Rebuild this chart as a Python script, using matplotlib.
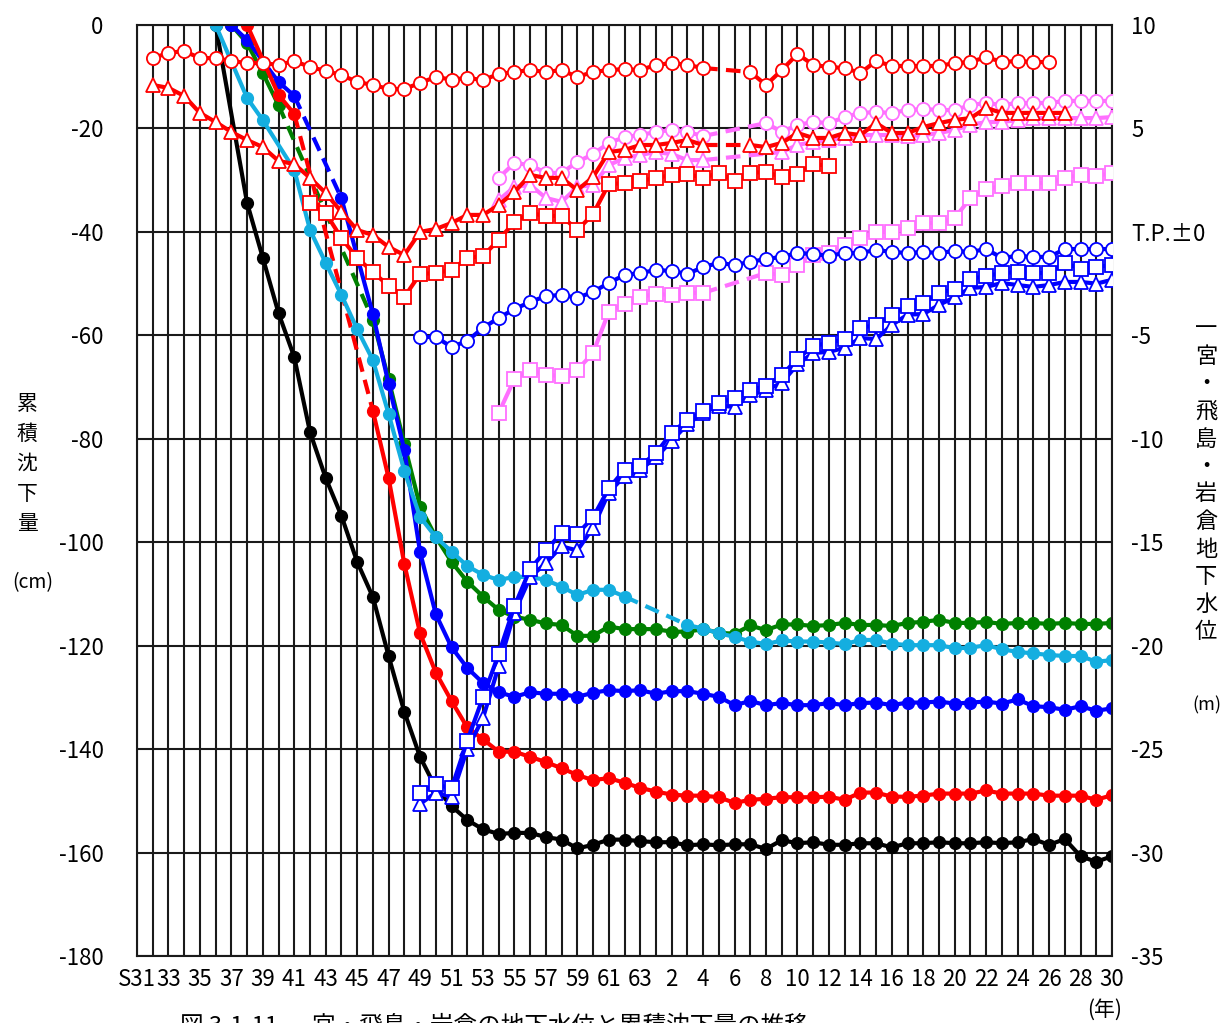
import numpy as np
import matplotlib
matplotlib.use("Agg")
import matplotlib.pyplot as plt

plt.rcParams['font.family'] = ['Noto Sans CJK JP', 'DejaVu Sans']

# ---- cumulative subsidence (cm), left axis, filled circles ----
black_years = [1961] + list(range(1963, 2019))
black_vals = [0, -34.4, -45.0, -55.7, -64.2, -78.7, -87.6, -94.9, -103.8, -110.6,
              -122.0, -132.8, -141.5, -147.5, -151.0, -153.7, -155.5, -156.4, -156.2,
              -156.2, -157.0, -157.5, -159.2, -158.5, -157.5, -157.5, -157.8, -158.0,
              -158.0, -158.6, -158.4, -158.6, -158.4, -158.4, -159.3, -157.6, -158.2,
              -158.0, -158.5, -158.5, -158.2, -158.2, -159.0, -158.2, -158.2, -158.0,
              -158.2, -158.2, -158.0, -158.2, -158.0, -157.4, -158.5, -157.4, -160.7,
              -161.8, -160.7]
black_dash = []

red_years = [1963, 1965, 1966] + list(range(1971, 2019))
red_vals = [0, -13.5, -17.2, -74.6, -87.6, -104.2, -117.6, -125.2, -130.7, -135.8,
            -138.1, -140.5, -140.5, -141.5, -142.5, -143.7, -145.0, -146.0, -145.6,
            -146.5, -147.5, -148.2, -148.8, -149.0, -149.0, -149.3, -150.4, -149.8,
            -149.6, -149.3, -149.3, -149.3, -149.2, -149.8, -148.4, -148.4, -149.2,
            -149.2, -149.0, -148.6, -148.6, -148.6, -148.0, -148.6, -148.6, -148.6,
            -149.0, -149.0, -149.0, -149.8, -148.9]
red_dash = [1966]

blue_years = [1962, 1963, 1965, 1966, 1969] + list(range(1971, 2019))
blue_vals = [0, -2.9, -11.0, -13.7, -33.5, -55.9, -69.4, -82.2, -101.9, -113.9,
             -120.3, -124.3, -127.2, -129.0, -129.9, -129.0, -129.3, -129.3, -129.9,
             -129.1, -128.6, -128.8, -128.6, -129.3, -128.8, -128.8, -129.3, -129.9,
             -131.5, -130.7, -131.5, -131.1, -131.5, -131.5, -131.1, -131.5, -131.1,
             -131.0, -131.5, -131.0, -131.0, -130.8, -131.2, -131.0, -130.8, -131.2,
             -130.4, -131.7, -131.9, -132.4, -131.7, -132.6, -132.1]
blue_dash = [1966]

green_years = [1962, 1963, 1964, 1965] + list(range(1971, 2019))
green_vals = [0, -3.5, -9.3, -15.5, -57.0, -68.5, -81.0, -93.1, -99.0, -103.8,
              -107.6, -110.5, -113.1, -114.4, -115.0, -115.7, -116.0, -118.1, -118.1,
              -116.3, -116.8, -116.8, -116.8, -117.3, -117.3, -116.8, -117.5, -117.7,
              -116.1, -117.0, -115.9, -115.9, -116.2, -116.0, -115.6, -116.0, -116.0,
              -116.2, -115.6, -115.4, -115.0, -115.6, -115.6, -115.4, -115.8, -115.6,
              -115.6, -115.8, -115.6, -115.8, -115.8, -115.6]
green_dash = [1965]

cyan_years = [1961, 1963, 1964] + list(range(1966, 1988)) + list(range(1991, 2019))
cyan_vals = [0, -14.1, -18.4, -28.0, -39.6, -46.0, -52.2, -58.8, -64.8, -75.2, -86.2,
             -95.1, -99.0, -101.8, -104.6, -106.3, -107.3, -106.7, -106.7, -107.3,
             -108.6, -110.2, -109.2, -109.2, -110.5, -116.0, -116.7, -117.6, -118.3,
             -119.2, -119.7, -119.0, -119.2, -119.2, -119.4, -119.7, -118.9, -118.9,
             -119.6, -119.9, -119.9, -119.9, -120.5, -120.4, -119.9, -120.7, -121.2,
             -121.5, -121.8, -122.0, -122.0, -123.1, -122.8]
cyan_dash = [1987]

# ---- groundwater level (m), right axis, hollow markers ----
rc_years = list(range(1957, 1993)) + list(range(1995, 2015))
rc_vals = [8.40, 8.65, 8.74, 8.40, 8.40, 8.26, 8.16, 8.16, 8.07, 8.26, 7.97, 7.78,
           7.58, 7.25, 7.10, 6.91, 6.91, 7.20, 7.49, 7.36, 7.44, 7.34, 7.63, 7.73,
           7.82, 7.73, 7.82, 7.49, 7.73, 7.82, 7.87, 7.82, 8.07, 8.16, 8.07, 7.92,
           7.73, 7.10, 7.82, 8.60, 8.07, 7.97, 7.92, 7.68, 8.26, 8.02, 8.02, 8.02,
           8.02, 8.16, 8.21, 8.45, 8.21, 8.26, 8.21, 8.21]
rc_dash = [1992]

rt_years = list(range(1957, 1993)) + list(range(1995, 2016))
rt_vals = [7.10, 6.96, 6.57, 5.75, 5.31, 4.83, 4.44, 4.10, 3.43, 3.28, 2.61, 1.88,
           0.96, 0.09, -0.15, -0.73, -1.12, 0.0, 0.14, 0.43, 0.82, 0.82, 1.30, 1.93,
           2.75, 2.61, 2.61, 2.02, 2.65, 3.86, 3.96, 4.20, 4.20, 4.30, 4.44, 4.20,
           4.20, 4.10, 4.30, 4.78, 4.54, 4.54, 4.78, 4.68, 5.26, 4.78, 4.78, 5.07,
           5.26, 5.41, 5.50, 5.99, 5.75, 5.75, 5.75, 5.75, 5.75]
rt_dash = [1992]

rs_years = list(range(1967, 2001))
rs_vals = [1.40, 0.91, -0.30, -1.26, -1.94, -2.61, -3.15, -2.03, -1.99, -1.84, -1.26,
           -1.16, -0.39, 0.48, 0.91, 0.77, 0.77, 0.09, 0.86, 2.31, 2.36, 2.46, 2.61,
           2.75, 2.80, 2.61, 2.85, 2.46, 2.85, 2.90, 2.65, 2.80, 3.28, 3.19]
rs_dash = []

pc_years = list(range(1979, 1993)) + list(range(1996, 2019))
pc_vals = [2.61, 3.33, 3.23, 2.85, 2.85, 3.38, 3.76, 4.30, 4.58, 4.68, 4.83, 4.93,
           4.83, 4.63, 5.26, 4.83, 5.17, 5.31, 5.26, 5.55, 5.75, 5.79, 5.75, 5.89,
           5.94, 5.89, 5.89, 6.13, 6.23, 6.13, 6.23, 6.23, 6.23, 6.33, 6.33, 6.33,
           6.33]
pc_dash = [1992]

pt_years = list(range(1979, 1993)) + list(range(1997, 2019))
pt_vals = [1.54, 2.17, 2.27, 1.64, 1.45, 2.17, 2.27, 3.23, 3.57, 3.72, 3.86, 3.76,
           3.47, 3.47, 3.86, 4.20, 4.35, 4.44, 4.54, 4.68, 4.68, 4.68, 4.63, 4.68,
           4.78, 4.93, 5.17, 5.31, 5.31, 5.41, 5.50, 5.50, 5.50, 5.50, 5.50, 5.55]
pt_dash = [1992]

ps_years = list(range(1979, 1993)) + list(range(1996, 2019))
ps_vals = [-8.75, -7.11, -6.67, -6.92, -6.96, -6.67, -5.85, -3.87, -3.48, -3.15,
           -3.00, -3.05, -2.95, -2.95, -1.99, -2.08, -1.60, -1.12, -1.02, -0.63,
           -0.30, 0.0, 0.0, 0.19, 0.43, 0.43, 0.67, 1.64, 2.07, 2.22, 2.36, 2.36,
           2.36, 2.61, 2.75, 2.70, 2.85]
ps_dash = [1992]

bc_years = list(range(1974, 2019))
bc_vals = [-5.08, -5.08, -5.56, -5.27, -4.64, -4.16, -3.73, -3.39, -3.10, -3.05,
           -3.19, -2.90, -2.47, -2.08, -1.99, -1.84, -1.89, -2.03, -1.70, -1.50,
           -1.60, -1.45, -1.31, -1.21, -1.02, -1.07, -1.16, -1.02, -1.02, -0.87,
           -0.97, -1.02, -0.97, -1.02, -0.92, -0.97, -0.83, -1.26, -1.16, -1.21,
           -1.21, -0.83, -0.83, -0.83, -0.83]
bc_dash = []

bs_years = list(range(1974, 2019))
bs_vals = [-27.1, -26.7, -26.9, -24.6, -22.5, -20.4, -18.1, -16.3, -15.4, -14.55,
           -14.6, -13.8, -12.4, -11.5, -11.3, -10.7, -9.7, -9.1, -8.66, -8.27,
           -8.03, -7.64, -7.45, -6.92, -6.14, -5.51, -5.37, -5.18, -4.64, -4.50,
           -4.00, -3.58, -3.44, -2.95, -2.76, -2.28, -2.13, -1.99, -1.94, -1.99,
           -1.99, -1.50, -1.79, -1.70, -1.60]
bs_dash = []

bt_years = list(range(1974, 2019))
bt_vals = [-27.65, -27.1, -27.3, -25.0, -23.5, -21.0, -18.4, -16.7, -16.0, -15.2,
           -15.4, -14.3, -12.6, -11.8, -11.5, -10.9, -10.1, -9.3, -8.75, -8.40,
           -8.46, -7.90, -7.64, -7.30, -6.40, -5.85, -5.80, -5.60, -5.13, -5.18,
           -4.50, -4.00, -3.97, -3.53, -3.15, -2.71, -2.66, -2.47, -2.57, -2.66,
           -2.57, -2.42, -2.42, -2.50, -2.32]
bt_dash = []

RED, BLUE, GREEN, CYAN, PINK = '#ff0000', '#0000ff', '#008000', '#14aee0', '#ff70ff'


def draw(ax, years, vals, color, marker, hollow=False, dash_after=(), ms=9.5):
    xs, ys = [], []
    for x, y in zip(years, vals):
        xs.append(x)
        ys.append(y)
        if x in dash_after:
            xs.append(np.nan)
            ys.append(np.nan)
    ax.plot(xs, ys, color=color, lw=3.0, solid_capstyle='round')
    for g in dash_after:
        i = years.index(g)
        ax.plot(years[i:i + 2], vals[i:i + 2], color=color, lw=3.0,
                linestyle=(0, (3.5, 2)))
    if hollow:
        ax.plot(years, vals, linestyle='none', marker=marker, ms=ms,
                mfc='white', mec=color, mew=1.3)
    else:
        ax.plot(years, vals, linestyle='none', marker=marker, ms=ms,
                mfc=color, mec=color)


fig = plt.figure(figsize=(12.26, 10.23), dpi=100)
ax = fig.add_axes([137 / 1226, 1 - 956 / 1023, 975 / 1226, 931 / 1023])
ax.set_xlim(1956, 2018)
ax.set_ylim(-180, 0)

xt = list(range(1956, 2019, 2))
xl = []
for y in xt:
    if y == 1956:
        xl.append('S31')
    elif y <= 1988:
        xl.append(str(y - 1925))
    else:
        xl.append(str(y - 1988))
ax.set_xticks(xt)
ax.set_xticklabels(xl)
ax.set_xticks(range(1956, 2019), minor=True)
ax.set_yticks(range(-180, 1, 20))
ax.set_yticklabels([str(v) for v in range(-180, 1, 20)])
ax.grid(True, which='both', axis='x', color='#1a1a1a', lw=1.5)
ax.grid(True, which='major', axis='y', color='#1a1a1a', lw=1.5)
ax.set_axisbelow(True)
ax.tick_params(which='both', length=0)
ax.tick_params(axis='x', labelsize=16, pad=9)
ax.tick_params(axis='y', labelsize=16, pad=24)
for s in ax.spines.values():
    s.set_color('#1a1a1a')
    s.set_linewidth(1.5)

draw(ax, green_years, green_vals, GREEN, 'o', dash_after=green_dash, ms=8.5)
draw(ax, black_years, black_vals, 'black', 'o', dash_after=black_dash, ms=8.5)
draw(ax, blue_years, blue_vals, BLUE, 'o', dash_after=blue_dash, ms=8.5)
draw(ax, red_years, red_vals, RED, 'o', dash_after=red_dash, ms=8.5)
draw(ax, cyan_years, cyan_vals, CYAN, 'o', dash_after=cyan_dash, ms=8.5)

ax2 = ax.twinx()
ax2.set_ylim(-35, 10)
rt = list(range(10, -36, -5))
ax2.set_yticks(rt)
ax2.set_yticklabels(['T.P.±0' if v == 0 else str(v) for v in rt])
ax2.tick_params(length=0, labelsize=16, pad=14)
for s in ax2.spines.values():
    s.set_visible(False)

draw(ax2, ps_years, ps_vals, PINK, 's', True, ps_dash)
draw(ax2, pt_years, pt_vals, PINK, '^', True, pt_dash, ms=10)
draw(ax2, pc_years, pc_vals, PINK, 'o', True, pc_dash)
draw(ax2, rs_years, rs_vals, RED, 's', True, rs_dash)
draw(ax2, rt_years, rt_vals, RED, '^', True, rt_dash, ms=10)
draw(ax2, rc_years, rc_vals, RED, 'o', True, rc_dash)
draw(ax2, bt_years, bt_vals, BLUE, '^', True, bt_dash, ms=10)
draw(ax2, bs_years, bs_vals, BLUE, 's', True, bs_dash)
draw(ax2, bc_years, bc_vals, BLUE, 'o', True, bc_dash)

jp = ['Noto Sans CJK JP', 'DejaVu Sans']
for i, ch in enumerate('累積沈下量'):
    fig.text(27 / 1226, 1 - (404 + i * 30) / 1023, ch, family=jp, fontsize=15,
             ha='center', va='center')
fig.text(33 / 1226, 1 - 583 / 1023, '(cm)', family=jp, fontsize=14,
         ha='center', va='center')
for i, ch in enumerate('一宮・飛島・岩倉地下水位'):
    fig.text(1206 / 1226, 1 - (329 + i * 27.5) / 1023, ch, family=jp, fontsize=16,
             ha='center', va='center')
fig.text(1207 / 1226, 1 - 705 / 1023, '(m)', family=jp, fontsize=13,
         ha='center', va='center')
fig.text(1105 / 1226, 1 - 1010 / 1023, '(年)', family=jp, fontsize=15,
         ha='center', va='center')
fig.text(180 / 1226, 1 - 1015 / 1023, '図 3-1-11  一宮・飛島・岩倉の地下水位と累積沈下量の推移',
         family=jp, fontsize=17, ha='left', va='top')

fig.savefig('out.png', dpi=100)
